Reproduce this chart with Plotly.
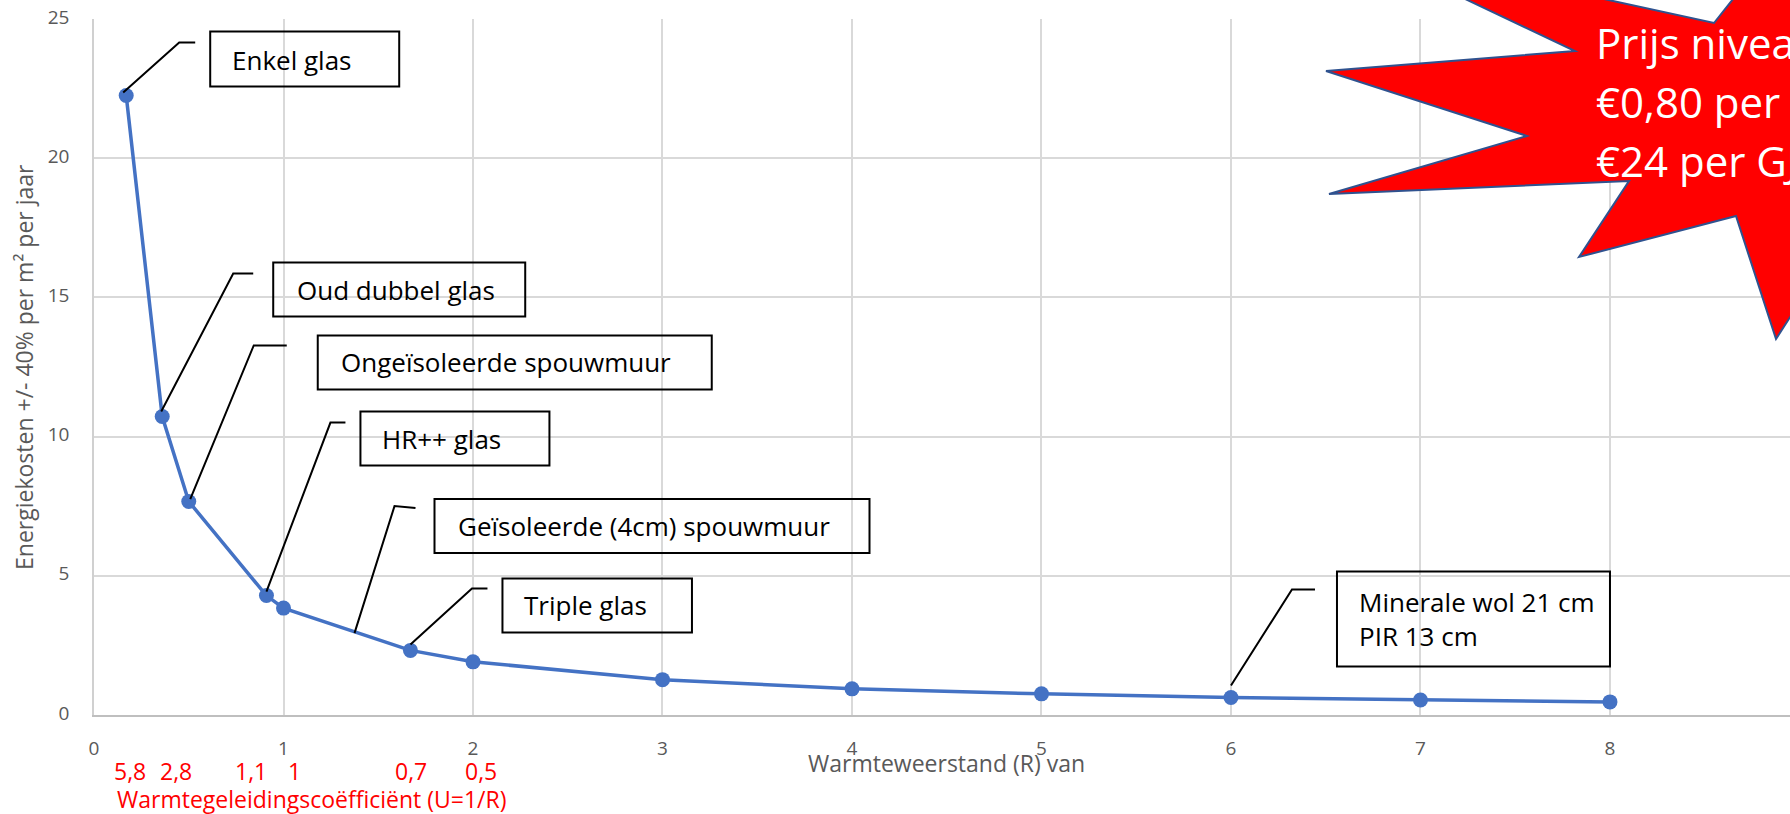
import plotly.graph_objects as go

# ---------------- data ----------------
r_values = [0.17, 0.36, 0.5, 0.91, 1.0, 1.67, 2, 3, 4, 5, 6, 7, 8]
energy_cost = [22.25, 10.72, 7.67, 4.29, 3.84, 2.32, 1.91, 1.27, 0.94, 0.76, 0.63, 0.54, 0.47]
x_ticks = [0, 1, 2, 3, 4, 5, 6, 7, 8]
y_ticks = [0, 5, 10, 15, 20, 25]
u_labels = ["5,8", "2,8", "1,1", "1", "0,7", "0,5"]
u_label_point = [0, 1, 3, 4, 5, 6]
callout_texts = ["Enkel glas", "Oud dubbel glas", "Ongeïsoleerde spouwmuur", "HR++ glas",
                 "Geïsoleerde (4cm) spouwmuur", "Triple glas", "Minerale wol 21 cm<br>PIR 13 cm"]
callout_point = [0, 1, 2, 3, 4, 5, 10]
star_lines = ["Prijs niveau", "€0,80 per m³", "€24 per GJ"]
x_title = "Warmteweerstand (R) van"
y_title = "Energiekosten +/- 40% per m² per jaar"
u_title = "Warmtegeleidingscoëfficiënt (U=1/R)"

# ---------------- layout geometry (pixels) ----------------
W, H = 1790, 814
ML, MR, MT, MB = 94, 0, 19, 99
PW, PH = W - ML - MR, H - MT - MB
FONT = "Open Sans"
GRAY = "#595959"


def px2paper(px, py):
    return (px - ML) / PW, (H - MB - py) / PH


# leader points (dx, dy up), box (x0, x1, ytop, ybottom), text shift (dx, dy)
callout_geom = [
    dict(lead=[(-3, 3), (53, 53), (69, 53)], box=(84, 273, 64, 9), txt=(104, 36)),
    dict(lead=[(-1, 5), (71, 143), (91, 143)], box=(111, 363, 154, 100), txt=(133, 127)),
    dict(lead=[(1.5, 2.4), (65, 156), (98, 156)], box=(129, 523, 166, 112), txt=(150, 139)),
    dict(lead=[(0, 4), (64, 173), (79, 173)], box=(94, 283, 184, 130), txt=(114, 157)),
    dict(lead=[(71, -25), (111, 102), (132, 100)], box=(151, 586, 109, 55), txt=(172, 82)),
    dict(lead=[(0, 6), (61.5, 62), (77, 62)], box=(92, 281.5, 72, 18), txt=(111.5, 45)),
    dict(lead=[(0, 12), (61, 108), (84, 108)], box=(106, 379, 126, 31), txt=(126, 78)),
]
u_label_xshift = [4, 13.5, -15, 10.5, 1, 8]

fig = go.Figure()
fig.add_trace(go.Scatter(
    x=r_values, y=energy_cost, mode="lines+markers",
    line=dict(color="#4472C4", width=3.5),
    marker=dict(size=15, color="#4472C4"),
    hoverinfo="x+y", showlegend=False,
))

shapes = []
annotations = []

# callouts
for text, p, g in zip(callout_texts, callout_point, callout_geom):
    xa, ya = r_values[p], energy_cost[p]
    path = "M " + " L ".join(f"{dx},{dy}" for dx, dy in g["lead"])
    shapes.append(dict(type="path", path=path, xref="x", yref="y",
                       xsizemode="pixel", ysizemode="pixel", xanchor=xa, yanchor=ya,
                       line=dict(color="black", width=2), layer="above"))
    bx0, bx1, btop, bbot = g["box"]
    shapes.append(dict(type="rect", xref="x", yref="y", xsizemode="pixel", ysizemode="pixel",
                       xanchor=xa, yanchor=ya, x0=bx0, x1=bx1, y0=bbot, y1=btop,
                       line=dict(color="black", width=2), fillcolor="rgba(0,0,0,0)", layer="above"))
    annotations.append(dict(text=text, x=xa, y=ya, xref="x", yref="y", showarrow=False,
                            xanchor="left", yanchor="middle", align="left",
                            xshift=g["txt"][0], yshift=g["txt"][1],
                            font=dict(family=FONT, size=26, color="black")))

# red U labels
for lab, p, sh in zip(u_labels, u_label_point, u_label_xshift):
    annotations.append(dict(text=lab, x=r_values[p], y=0, xref="x", yref="paper",
                            showarrow=False, xanchor="center", yanchor="middle",
                            xshift=sh, yshift=-56,
                            font=dict(family=FONT, size=23, color="#FF0000")))
annotations.append(dict(text=u_title, x=px2paper(115, 0)[0], y=0, xref="paper", yref="paper",
                        showarrow=False, xanchor="left", yanchor="middle", yshift=-84,
                        font=dict(family=FONT, size=23, color="#FF0000")))

# axis titles
annotations.append(dict(text=x_title, x=px2paper(946, 0)[0], y=0, xref="paper", yref="paper",
                        showarrow=False, xanchor="center", yanchor="middle", yshift=-48,
                        font=dict(family=FONT, size=23, color=GRAY)))
annotations.append(dict(text=y_title, x=px2paper(24, 0)[0], y=0.5, xref="paper", yref="paper",
                        showarrow=False, xanchor="center", yanchor="middle", textangle=-90,
                        font=dict(family=FONT, size=23, color=GRAY)))

# starburst
star_px = [(1347, -57), (1714, 23), (1780, -60), (1900, -60), (1900, 260), (1830, 255),
           (1776, 339), (1736, 216), (1579, 257), (1629, 181), (1329, 194), (1527, 136),
           (1326, 71), (1575, 51)]
pts = [px2paper(x, y) for x, y in star_px]
star_path = "M " + " L ".join(f"{x:.5f},{y:.5f}" for x, y in pts) + " Z"
shapes.append(dict(type="path", path=star_path, xref="paper", yref="paper",
                   fillcolor="#FF0000", line=dict(color="#2F528F", width=2), layer="above"))
for line, cy in zip(star_lines, [43, 102, 160]):
    xp, yp = px2paper(1594, cy)
    annotations.append(dict(text=line, x=xp, y=yp, xref="paper", yref="paper", showarrow=False,
                            xanchor="left", yanchor="middle",
                            font=dict(family=FONT, size=42, color="white")))

fig.update_layout(
    width=W, height=H,
    margin=dict(l=ML, r=MR, t=MT, b=MB, pad=0),
    paper_bgcolor="white", plot_bgcolor="white",
    font=dict(family=FONT, color=GRAY),
    showlegend=False,
    shapes=shapes, annotations=annotations,
    xaxis=dict(range=[0, 8.95], tickvals=x_ticks, showgrid=True, gridcolor="#D9D9D9", gridwidth=1.5,
               zeroline=False, showline=True, linecolor="#BFBFBF", linewidth=1.5,
               tickfont=dict(family=FONT, size=19, color=GRAY), ticklabelstandoff=15,
               automargin=False),
    yaxis=dict(range=[0, 25], tickvals=y_ticks, showgrid=True, gridcolor="#D9D9D9", gridwidth=1.5,
               zeroline=False, showline=True, linecolor="#D0D0D0", linewidth=1.5,
               tickfont=dict(family=FONT, size=19, color=GRAY), ticklabelstandoff=19,
               ticklabelshift=-2, automargin=False),
)

fig.write_html(
    "out.html",
    config={"displayModeBar": False},
    post_script="document.body.style.margin='0';document.body.style.overflow='hidden';",
)
